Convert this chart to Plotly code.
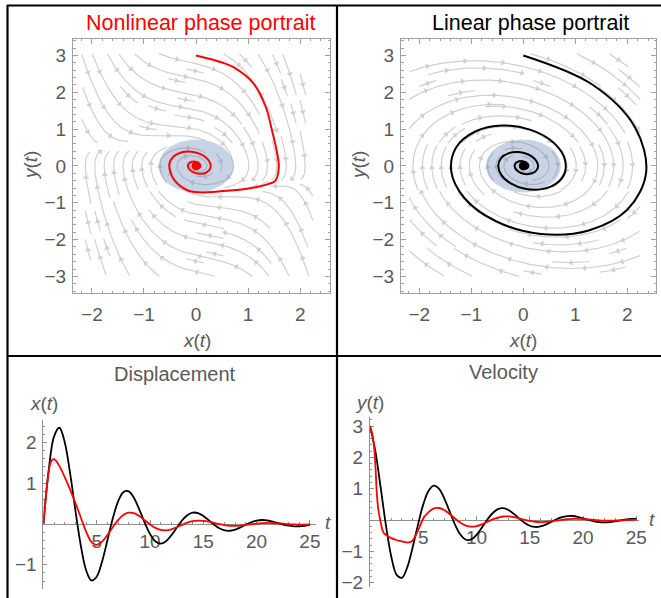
import math
import plotly.graph_objects as go

W, H = 661, 598
FONT = "Liberation Sans, Arial, sans-serif"
TXT = "#5a5a5a"
FRAME = "#a0a0a0"
STREAM = "#d0d0d0"

# ---------------- data ----------------
# linear oscillator
t_lin = [0, 0.5, 1, 1.5, 2, 2.5, 3, 3.5, 4, 4.5, 5, 5.5, 6, 6.5, 7, 7.5, 8, 8.5, 9, 9.5,
         10, 10.5, 11, 11.5, 12, 12.5, 13, 13.5, 14, 14.5, 15, 15.5, 16, 16.5, 17, 17.5,
         18, 18.5, 19, 19.5, 20, 20.5, 21, 21.5, 22, 22.5, 23, 23.5, 24, 24.5, 25]
x_lin = [0, 1.325, 2.148, 2.360, 2.007, 1.256, 0.337, -0.515, -1.128, -1.383, -1.291,
         -0.924, -0.402, 0.129, 0.550, 0.781, 0.802, 0.638, 0.355, 0.036, -0.242, -0.423,
         -0.481, -0.423, -0.275, -0.090, 0.087, 0.217, 0.279, 0.268, 0.198, 0.095, -0.014,
         -0.103, -0.155, -0.165, -0.135, -0.080, -0.015, 0.044, 0.083, 0.098, 0.088, 0.060,
         0.023, -0.014, -0.042, -0.056, -0.055, -0.043, -0.022]
y_lin = [3.000, 2.211, 1.044, -0.179, -1.174, -1.751, -1.845, -1.509, -0.877, -0.155, 0.499,
         0.935, 1.097, 0.986, 0.669, 0.251, -0.161, -0.473, -0.630, -0.621, -0.474, -0.243,
         0.007, 0.216, 0.348, 0.378, 0.318, 0.196, 0.048, -0.087, -0.183, -0.222, -0.206,
         -0.145, -0.062, 0.024, 0.090, 0.126, 0.128, 0.101, 0.055, 0.004, -0.040, -0.069,
         -0.077, -0.067, -0.043, -0.013, 0.015, 0.035, 0.045]

# nonlinear oscillator
t_nl = [0, 0.17, 0.25, 0.41, 0.53, 0.62, 0.78, 0.96, 1.15, 1.3, 1.6, 2.0, 2.4, 2.8, 3.2,
        3.55, 3.92, 4.2, 4.42, 4.65, 5.0, 5.5, 6.0, 6.5, 7.0, 7.5, 8.0, 8.5, 9.0, 9.5, 10.0,
        10.5, 11.0, 11.5, 12.0, 12.5, 13.0, 13.5, 14.0, 14.5, 15.0, 15.5, 16.0, 16.5, 17.0,
        17.5, 18.0, 18.5, 19.0, 19.5, 20.0, 20.5, 21.0, 21.5, 22.0, 22.5, 23.0, 23.5, 24.0,
        24.5, 25.0]
x_nl = [0, 0.50, 0.72, 1.11, 1.34, 1.46, 1.56, 1.59, 1.56, 1.51, 1.37, 1.15, 0.91, 0.65,
        0.38, 0.13, -0.13, -0.30, -0.41, -0.48, -0.511, -0.432, -0.272, -0.080, 0.097, 0.223,
        0.279, 0.265, 0.195, 0.094, -0.010, -0.094, -0.144, -0.154, -0.129, -0.080, -0.021,
        0.032, 0.069, 0.084, 0.079, 0.058, 0.027, -0.004, -0.029, -0.044, -0.046, -0.038,
        -0.023, -0.006, 0.010, 0.021, 0.026, 0.024, 0.017, 0.008, -0.002, -0.009, -0.013,
        -0.014, -0.011]
y_nl = [3.0, 2.81, 2.68, 2.23, 1.60, 0.96, 0.33, 0.0, -0.30, -0.42, -0.50, -0.58, -0.63,
        -0.67, -0.70, -0.72, -0.68, -0.55, -0.40, -0.22, 0.049, 0.254, 0.369, 0.384, 0.312,
        0.185, 0.039, -0.091, -0.179, -0.214, -0.195, -0.138, -0.060, 0.018, 0.079, 0.112,
        0.115, 0.093, 0.054, 0.010, -0.029, -0.055, -0.065, -0.058, -0.041, -0.017, 0.006,
        0.024, 0.034, 0.035, 0.028, 0.016, 0.002, -0.009, -0.017, -0.019, -0.017, -0.012,
        -0.005, 0.002, 0.008]

titles = ["Nonlinear phase portrait", "Linear phase portrait", "Displacement", "Velocity"]
phase_ticks = [-3, -2, -1, 0, 1, 2, 3]
disp_yticks = [-1, 1, 2]
vel_yticks = [-2, -1, 1, 2, 3]
time_ticks = [5, 10, 15, 20, 25]

# vector-field model behind the stream plots (x' = y, y' = -x - damping * y)
DAMP = 1 / 3
NL_COEF = 1.0
STREAM_X = (-2.2, 2.25)
STREAM_Y = (-3.0, 3.05)
DISC_R = 0.72


def field_nl(x, y):
    return y, -x - (DAMP + NL_COEF * x * x) * y


def field_lin(x, y):
    return y, -x - DAMP * y


# ---------------- panel geometry (pixels) ----------------
P = {
    "TL": dict(l=73, r=330, t=38.5, b=293, xr=[-2.363, 2.573], yr=[-3.45, 3.46]),
    "TR": dict(l=401, r=656, t=38.5, b=293, xr=[-2.35, 2.55], yr=[-3.45, 3.46]),
    "BL": dict(l=43.4, r=316.3, t=420, b=589, xr=[0, 25.6], yr=[-1.593, 2.55]),
    "BR": dict(l=370, r=638.5, t=416.7, b=586.7, xr=[0, 25.2], yr=[-2.13, 3.30]),
}


def scale(p):
    return (p["r"] - p["l"]) / (p["xr"][1] - p["xr"][0]), (p["b"] - p["t"]) / (p["yr"][1] - p["yr"][0])


def make_streams(field, sx, sy, sep=9.5, h=1.0, maxlen=700.0, minlen=18.0, gap=38.0):
    x0, x1 = STREAM_X
    y0, y1 = STREAM_Y
    nx = int(math.ceil((x1 - x0) * sx / sep))
    ny = int(math.ceil((y1 - y0) * sy / sep))
    occ = [[False] * ny for _ in range(nx)]

    def cell(x, y):
        i = min(max(int((x - x0) * sx / sep), 0), nx - 1)
        j = min(max(int((y - y0) * sy / sep), 0), ny - 1)
        return (i, j)

    def dirn(x, y, sgn):
        u, v = field(x, y)
        sp = math.hypot(u * sx, v * sy)
        if sp < 1e-6:
            return None
        return sgn * u * h / sp, sgn * v * h / sp

    def run(xs, ys, sgn, own):
        pts = []
        x, y = xs, ys
        recent = [cell(x, y)]
        L = 0.0
        while L < maxlen:
            d = dirn(x, y, sgn)
            if d is None:
                break
            d2 = dirn(x + d[0] / 2, y + d[1] / 2, sgn)
            if d2 is None:
                break
            xn, yn = x + d2[0], y + d2[1]
            if not (x0 <= xn <= x1 and y0 <= yn <= y1):
                break
            c = cell(xn, yn)
            if c != recent[-1]:
                if occ[c[0]][c[1]] or (c in own and c not in recent):
                    break
                own.add(c)
                recent.append(c)
                recent = recent[-3:]
            x, y = xn, yn
            pts.append((x, y))
            L += h
        return pts

    # seed from the middle of each row/column outward so lines start well spread
    order_i = sorted(range(nx), key=lambda k: abs(k - nx / 2))
    order_j = sorted(range(ny), key=lambda k: abs(k - ny / 2))
    lines = []
    for j in order_j:
        for i in order_i:
            if occ[i][j]:
                continue
            xs = x0 + (i + 0.5) * sep / sx
            ys = y0 + (j + 0.5) * sep / sy
            own = {(i, j)}
            fwd = run(xs, ys, 1, own)
            bwd = run(xs, ys, -1, own)
            path = bwd[::-1] + [(xs, ys)] + fwd
            if (len(path) - 1) * h < minlen:
                continue
            for c in own:
                occ[c[0]][c[1]] = True
            lines.append(path)

    lx, ly, axp, ayp, ang = [], [], [], [], []
    for path in lines:
        for (a, b) in path[::2]:
            lx.append(a)
            ly.append(b)
        lx.append(path[-1][0])
        ly.append(path[-1][1])
        lx.append(None)
        ly.append(None)
        n = len(path)
        L = (n - 1) * h
        marks = [L / 2] if L < 1.5 * gap else [gap / 2 + k * gap for k in range(int((L - gap / 2) / gap) + 1)]
        for s in marks:
            k = min(max(int(s / h), 2), n - 1)
            xa, ya = path[k]
            xb, yb = path[k - 2]
            axp.append(xa)
            ayp.append(ya)
            ang.append(math.degrees(math.atan2((xa - xb) * sx, (ya - yb) * sy)))
    return lx, ly, axp, ayp, ang


fig = go.Figure()


def add_phase(key, xa, ya, field, xs, ys, color):
    sx, sy = scale(P[key])
    lx, ly, axp, ayp, ang = make_streams(field, sx, sy)
    fig.add_trace(go.Scatter(x=lx, y=ly, mode="lines", line=dict(color=STREAM, width=1.2),
                             xaxis=xa, yaxis=ya, hoverinfo="skip"))
    fig.add_trace(go.Scatter(x=axp, y=ayp, mode="markers",
                             marker=dict(symbol="triangle-up", size=5.5, color=STREAM, angle=ang,
                                         line=dict(width=0)),
                             xaxis=xa, yaxis=ya, hoverinfo="skip"))
    cx = [DISC_R * math.cos(2 * math.pi * k / 96) for k in range(97)]
    cy = [DISC_R * math.sin(2 * math.pi * k / 96) for k in range(97)]
    fig.add_trace(go.Scatter(x=cx, y=cy, mode="lines", fill="toself", line=dict(width=0),
                             fillcolor="rgba(95,128,180,0.34)", xaxis=xa, yaxis=ya, hoverinfo="skip"))
    fig.add_trace(go.Scatter(x=xs, y=ys, mode="lines", line=dict(color=color, width=2, shape="spline"),
                             xaxis=xa, yaxis=ya))
    fig.add_trace(go.Scatter(x=[0], y=[0], mode="markers", marker=dict(color=color, size=9),
                             xaxis=xa, yaxis=ya))


add_phase("TL", "x", "y", field_nl, x_nl, y_nl, "#ff0000")
add_phase("TR", "x2", "y2", field_lin, x_lin, y_lin, "#000000")

# time series
fig.add_trace(go.Scatter(x=t_lin, y=x_lin, mode="lines", line=dict(color="black", width=1.8, shape="spline"),
                         xaxis="x3", yaxis="y3"))
fig.add_trace(go.Scatter(x=t_nl, y=x_nl, mode="lines", line=dict(color="#ff0000", width=1.8, shape="spline"),
                         xaxis="x3", yaxis="y3"))
fig.add_trace(go.Scatter(x=t_lin, y=y_lin, mode="lines", line=dict(color="black", width=1.8, shape="spline"),
                         xaxis="x4", yaxis="y4"))
fig.add_trace(go.Scatter(x=t_nl, y=y_nl, mode="lines", line=dict(color="#ff0000", width=1.8, shape="spline"),
                         xaxis="x4", yaxis="y4"))


def px(v):
    return v / W


def py(v):
    return 1 - v / H


tickfont = dict(family=FONT, size=19, color=TXT)


def frame_axes(p):
    x0, x1 = p["xr"]
    y0, y1 = p["yr"]
    xa = dict(domain=[px(p["l"]), px(p["r"])], range=p["xr"], showline=True, mirror="ticks",
              linecolor=FRAME, linewidth=1, ticks="inside", ticklen=5, tickcolor=FRAME,
              tickmode="array", tickvals=[v for v in phase_ticks if x0 < v < x1],
              minor=dict(ticks="inside", ticklen=2.5, tickcolor=FRAME, dtick=0.2, tick0=0),
              showgrid=False, zeroline=False, tickfont=tickfont, automargin=False,
              ticklabelstandoff=4)
    ya = dict(domain=[py(p["b"]), py(p["t"])], range=p["yr"], showline=True, mirror="ticks",
              linecolor=FRAME, linewidth=1, ticks="inside", ticklen=5, tickcolor=FRAME,
              tickmode="array", tickvals=[v for v in phase_ticks if y0 < v < y1],
              minor=dict(ticks="inside", ticklen=2.5, tickcolor=FRAME, dtick=0.2, tick0=0),
              showgrid=False, zeroline=False, tickfont=tickfont, automargin=False,
              ticklabelstandoff=2)
    return xa, ya


def time_axes(p, zero_py, yticks):
    xa = dict(domain=[px(p["l"]), px(p["r"])], range=p["xr"], anchor="free", position=py(zero_py),
              showline=True, linecolor="#909090", linewidth=1, ticks="inside", ticklen=4,
              tickcolor="#909090", tickmode="array", tickvals=time_ticks,
              minor=dict(ticks="inside", ticklen=2, tickcolor="#909090", dtick=1, tick0=0),
              showgrid=False, zeroline=False, tickfont=tickfont, automargin=False,
              layer="below traces", ticklabelstandoff=0)
    ya = dict(domain=[py(p["b"]), py(p["t"])], range=p["yr"], showline=True, linecolor="#909090",
              linewidth=1, ticks="inside", ticklen=4, tickcolor="#909090", tickmode="array",
              tickvals=yticks,
              minor=dict(ticks="inside", ticklen=2, tickcolor="#909090", dtick=0.2, tick0=0),
              showgrid=False, zeroline=False, tickfont=tickfont, automargin=False,
              layer="below traces", ticklabelstandoff=2)
    return xa, ya


xa1, ya1 = frame_axes(P["TL"])
xa2, ya2 = frame_axes(P["TR"])
xa3, ya3 = time_axes(P["BL"], 524, disp_yticks)
xa4, ya4 = time_axes(P["BR"], 520, vel_yticks)
xa1["anchor"] = "y"
ya1["anchor"] = "x"
xa2["anchor"] = "y2"
ya2["anchor"] = "x2"
ya3["anchor"] = "x3"
ya4["anchor"] = "x4"

ann = []


def text(x, y, s, size, color=TXT, angle=0):
    ann.append(dict(x=px(x), y=py(y), xref="paper", yref="paper", text=s, showarrow=False,
                    xanchor="center", yanchor="middle", textangle=angle,
                    font=dict(family=FONT, size=size, color=color)))


text(201, 23, titles[0], 21.5, "#ff0000")
text(530, 23, titles[1], 21.5, "#000000")
text(175, 374, titles[2], 20)
text(503, 372, titles[3], 20)
lab = "<i>x</i>(<i>t</i>)"
laby = "<i>y</i>(<i>t</i>)"
text(197, 340, lab, 19)
text(30, 166, laby, 19, angle=-90)
text(523, 340, lab, 19)
text(358, 166, laby, 19, angle=-90)
text(44, 403, lab, 19)
text(369, 402, laby, 19)
text(328, 522, "<i>t</i>", 19)
text(652, 519, "<i>t</i>", 19)

shapes = []
for (a, b, c, d) in [(7, 5.5, 661, 5.5), (7.5, 5, 7.5, 598), (337, 5, 337, 598), (7, 356, 661, 356)]:
    shapes.append(dict(type="line", xref="paper", yref="paper", x0=px(a), y0=py(b), x1=px(c), y1=py(d),
                       line=dict(color="black", width=2.2)))

fig.update_layout(
    width=W, height=H, autosize=False, margin=dict(l=0, r=0, t=0, b=0, pad=0),
    paper_bgcolor="white", plot_bgcolor="white", showlegend=False,
    xaxis=xa1, yaxis=ya1, xaxis2=xa2, yaxis2=ya2, xaxis3=xa3, yaxis3=ya3, xaxis4=xa4, yaxis4=ya4,
    annotations=ann, shapes=shapes, hovermode=False,
)

fig.write_html("out.html")
